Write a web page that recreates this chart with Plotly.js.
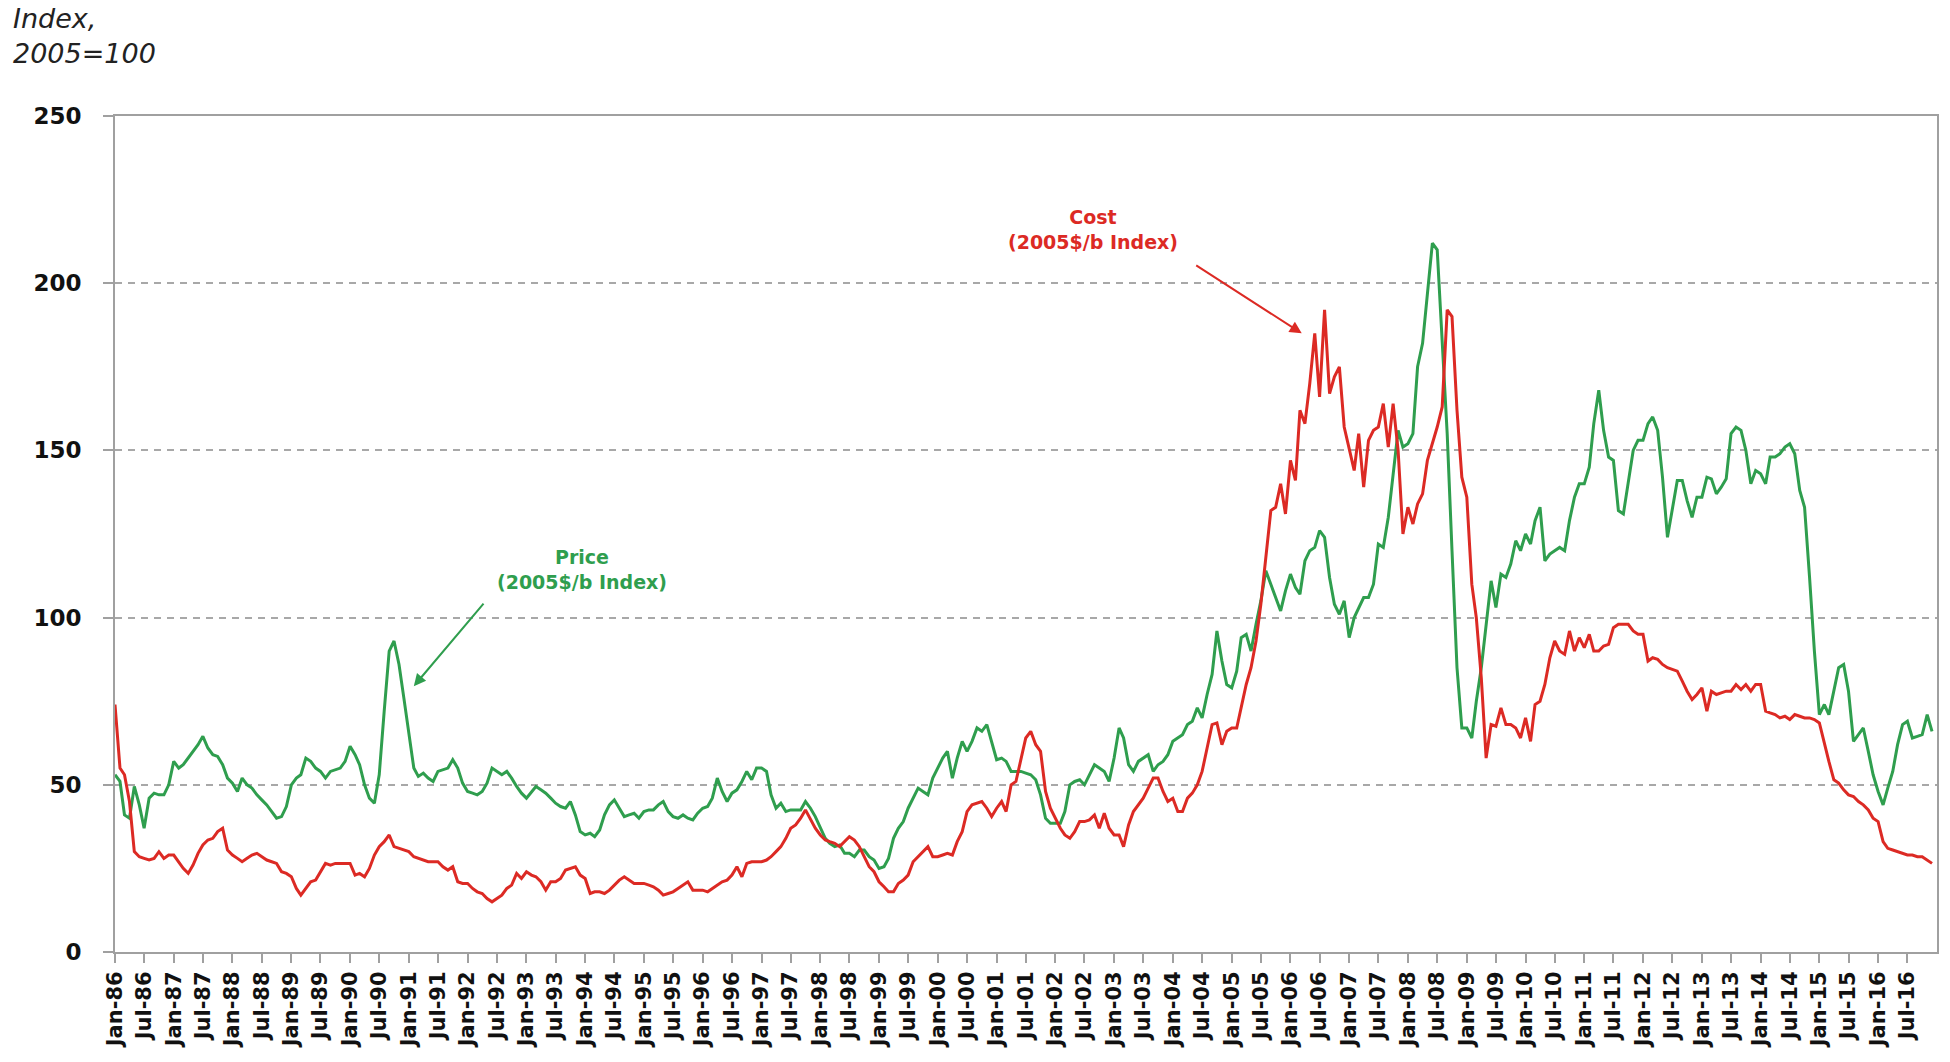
<!DOCTYPE html>
<html><head><meta charset="utf-8">
<script src="https://cdn.plot.ly/plotly-3.0.1.min.js"></script>
<style>html,body{margin:0;padding:0;background:#fff}#chart{width:1950px;height:1062px}</style>
</head><body><div id="chart"></div>
<script>
// Monthly data, Jan-1986 .. Dec-2016 (one row per year)
const startYear = 1986;
const price = [
  53, 51, 41, 40, 49.5, 44, 37, 46, 47.5, 47, 47, 50,
  57, 55, 56, 58, 60, 62, 64.5, 61, 59, 58.5, 56, 52,
  50.5, 48, 52, 50, 49, 47, 45.5, 44, 42, 40, 40.5, 43.5,
  50, 52, 53, 58, 57, 55, 54, 52, 54, 54.5, 55, 57,
  61.5, 59, 56, 50, 46, 44.5, 53, 72, 90, 93, 86, 76,
  66, 55, 52.5, 53.5, 52, 51, 54, 54.5, 55, 57.5, 55, 50.5,
  48, 47.5, 47, 48, 50.5, 55, 54, 53, 54, 52, 49.5, 47.5,
  46, 48, 49.5, 48.5, 47.5, 46, 44.5, 43.5, 43, 45, 41, 36,
  35, 35.5, 34.5, 36.5, 41, 44, 45.5, 43, 40.5, 41, 41.5, 40,
  42, 42.5, 42.5, 44, 45, 42, 40.5, 40, 41, 40, 39.5, 41.5,
  43, 43.5, 46, 52, 48, 45, 47.5, 48.5, 51, 54, 51.5, 55,
  55, 54, 47, 43, 44.5, 42, 42.5, 42.5, 42.5, 45, 43, 40.5,
  37, 34, 32.5, 31.5, 32, 29.5, 29.5, 28.5, 30.5, 30.5, 28.5, 27.5,
  25, 25.5, 28, 34, 37, 39, 43, 46, 49, 48, 47, 52,
  55, 58, 60, 52, 58, 63, 60, 63, 67, 66, 68, 63,
  57.5, 58, 57, 54, 54, 54, 53.5, 53, 51.5, 47, 40, 38.5,
  38.5, 38.5, 42, 50, 51, 51.5, 50, 53, 56, 55, 54, 51,
  58, 67, 64, 56, 54, 57, 58, 59, 54, 56, 57, 59,
  63, 64, 65, 68, 69, 73, 70, 77, 83, 96, 87, 80,
  79, 84, 94, 95, 90, 98, 105, 114, 110, 106, 102, 108,
  113, 109, 107, 117, 120, 121, 126, 124, 112, 104, 101, 105,
  94, 100, 103, 106, 106, 110, 122, 121, 130, 142, 156, 151,
  152, 155, 175, 182, 197, 212, 210, 182, 155, 120, 85, 67,
  67, 64, 75, 85, 98, 111, 103, 113, 112, 116, 123, 120,
  125, 122, 129, 133, 117, 119, 120, 121, 120, 129, 136, 140,
  140, 145, 158, 168, 156, 148, 147, 132, 131, 140, 150, 153,
  153, 158, 160, 156, 142, 124, 133, 141, 141, 135, 130, 136,
  136, 142, 141.5, 137, 139, 141.5, 155, 157, 156, 150, 140, 144,
  143, 140, 148, 148, 149, 151, 152, 149, 138, 133, 112, 90,
  71, 74, 71, 78, 85, 86, 78, 63, 65, 67, 60, 53,
  48, 44, 49, 54, 62, 68, 69, 64, 64.5, 65, 71, 66
];
const cost = [
  74, 55, 53, 45, 30, 28.5, 28, 27.5, 28, 30, 28, 29,
  29, 27, 25, 23.5, 26, 29.5, 32, 33.5, 34, 36, 37, 30.5,
  29, 28, 27, 28, 29, 29.5, 28.5, 27.5, 27, 26.5, 24, 23.5,
  22.5, 19, 17, 19, 21, 21.5, 24, 26.5, 26, 26.5, 26.5, 26.5,
  26.5, 23, 23.5, 22.5, 25, 29, 31.5, 33, 35, 31.5, 31, 30.5,
  30, 28.5, 28, 27.5, 27, 27, 27, 25.5, 24.5, 25.5, 21, 20.5,
  20.5, 19, 18, 17.5, 16, 15, 16, 17, 19, 20, 23.5, 22,
  24, 23, 22.5, 21, 18.5, 21, 21, 22, 24.5, 25, 25.5, 23,
  22, 17.5, 18, 18, 17.5, 18.5, 20, 21.5, 22.5, 21.5, 20.5, 20.5,
  20.5, 20, 19.5, 18.5, 17, 17.5, 18, 19, 20, 21, 18.5, 18.5,
  18.5, 18, 19, 20, 21, 21.5, 23, 25.5, 22.5, 26.5, 27, 27,
  27, 27.5, 28.5, 30, 31.5, 34, 37, 38, 40, 42.5, 39.5, 37,
  35, 33.5, 33, 32.5, 31.5, 33, 34.5, 33.5, 31.5, 28.5, 25.5, 24,
  21, 19.5, 18, 18, 20.5, 21.5, 23, 27, 28.5, 30, 31.5, 28.5,
  28.5, 29, 29.5, 29, 33, 36, 42, 44, 44.5, 45, 43, 40.5,
  43, 45, 42, 50, 51, 58, 64, 66, 62, 60, 48, 43,
  40, 37, 35, 34, 36, 39, 39, 39.5, 41, 37, 41.5, 37,
  35, 35, 31.5, 38, 42, 44, 46, 49, 52, 52, 48, 45,
  46, 42, 42, 46, 47.5, 50, 54, 61, 68, 68.5, 62, 66,
  67, 67, 73, 80, 85, 93, 104, 118, 132, 133, 140, 131,
  147, 141, 162, 158, 170, 185, 166, 192, 167, 172, 175, 157,
  150, 144, 155, 139, 153, 156, 157, 164, 151, 164, 150, 125,
  133, 128, 134, 137, 147, 152, 157, 163, 192, 190, 162, 142,
  136, 110, 100, 82, 58, 68, 67.5, 73, 68, 68, 67, 64,
  70, 63, 74, 75, 80, 88, 93, 90, 89, 96, 90, 94,
  91, 95, 90, 90, 91.5, 92, 97, 98, 98, 98, 96, 95,
  95, 87, 88, 87.5, 86, 85, 84.5, 84, 81, 78, 75.5, 77,
  79, 72, 78, 77, 77.5, 78, 78, 80, 78.5, 80, 78, 80,
  80, 72, 71.5, 71, 70, 70.5, 69.5, 71, 70.5, 70, 70, 69.5,
  68.5, 62, 57, 51.5, 50.5, 48.5, 47, 46.5, 45, 44, 42.5, 40,
  39, 33, 31, 30.5, 30, 29.5, 29, 29, 28.5, 28.5, 27.5, 26.5
];
const seriesNames = ["Price", "Cost"];
const seriesSub = "(2005$/b Index)";
const yTicks = [0, 50, 100, 150, 200, 250];
const yTitle = ["Index,", "2005=100"];

const dates = price.map((_, i) => {
  const y = startYear + Math.floor(i / 12), m = (i % 12) + 1;
  return y + "-" + String(m).padStart(2, "0") + "-01";
});
const xTickVals = dates.filter((_, i) => i % 6 === 0);   // Jan-86 ... Jul-16

const GREEN = "#2f9e4e", RED = "#dc2a24";
const traces = [
  {x: dates, y: price, type: "scatter", mode: "lines", name: seriesNames[0],
   line: {color: GREEN, width: 3}},
  {x: dates, y: cost, type: "scatter", mode: "lines", name: seriesNames[1],
   line: {color: RED, width: 3}}
];

const F = "DejaVu Sans, Verdana, sans-serif";
const layout = {
  width: 1950, height: 1062,
  margin: {l: 115, r: 13, t: 116, b: 110},
  paper_bgcolor: "#fff", plot_bgcolor: "#fff",
  showlegend: false,
  xaxis: {
    type: "date",
    range: ["1986-01-01", "2017-01-01"],
    tickmode: "array", tickvals: xTickVals, tickformat: "%b-%y",
    tickangle: -90,
    ticks: "outside", ticklen: 9, tickwidth: 2, tickcolor: "#a0a0a0",
    showgrid: false, zeroline: false,
    showline: true, linecolor: "#a0a0a0", linewidth: 2, mirror: true,
    tickfont: {family: F, size: 21, color: "#111", weight: "bold"}
  },
  yaxis: {
    range: [0, 250], tickvals: yTicks,
    ticks: "outside", ticklen: 10, tickwidth: 2, tickcolor: "#a0a0a0",
    ticklabelstandoff: 17,
    showgrid: true, gridcolor: "#a8a8a8", gridwidth: 2, griddash: "7px,6px",
    zeroline: false,
    showline: true, linecolor: "#a0a0a0", linewidth: 2, mirror: true,
    tickfont: {family: F, size: 23, color: "#111", weight: "bold"}
  },
  annotations: [
    {xref: "paper", yref: "paper", x: -0.057, y: 1.137, xanchor: "left", yanchor: "top",
     text: "<i>" + yTitle.join("<br>") + "</i>", align: "left", showarrow: false,
     font: {family: F, size: 27, color: "#222"}},
    {xref: "paper", yref: "paper", x: 0.537, y: 0.864, xanchor: "center", yanchor: "middle",
     text: "<b>" + seriesNames[1] + "<br>" + seriesSub + "</b>", showarrow: false,
     font: {family: F, size: 19, color: RED}},
    {x: "2006-03-12", y: 185, text: "", showarrow: true, ax: -107, ay: -69,
     arrowhead: 2, arrowsize: 1.2, arrowwidth: 2, arrowcolor: RED},
    {xref: "paper", yref: "paper", x: 0.2563, y: 0.458, xanchor: "center", yanchor: "middle",
     text: "<b>" + seriesNames[0] + "<br>" + seriesSub + "</b>", showarrow: false,
     font: {family: F, size: 19, color: GREEN}},
    {x: "1991-02-01", y: 79.5, text: "", showarrow: true, ax: 71, ay: -84,
     arrowhead: 2, arrowsize: 1.2, arrowwidth: 2, arrowcolor: GREEN}
  ]
};

Plotly.newPlot("chart", traces, layout, {staticPlot: true, displayModeBar: false});
</script>
</body></html>
